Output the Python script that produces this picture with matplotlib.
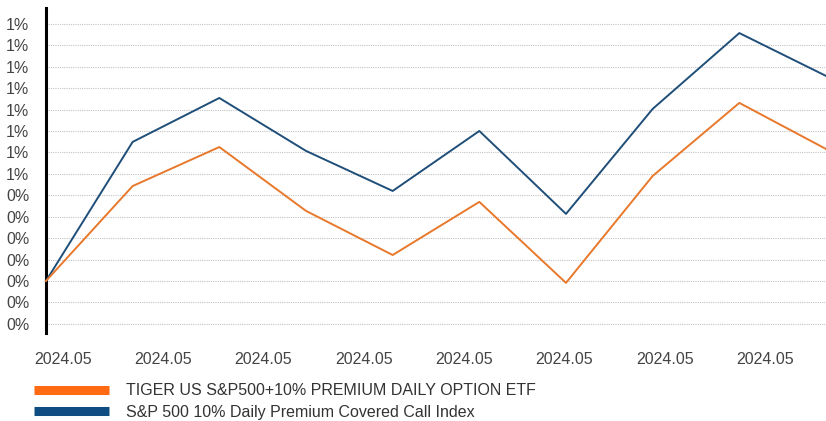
import matplotlib.pyplot as plt
from matplotlib.lines import Line2D
from matplotlib.ticker import FuncFormatter
import math

plt.rcParams['font.family'] = ['Liberation Sans', 'DejaVu Sans']

# 수익률 (%)
etf_name = "TIGER US S&P500+10% PREMIUM DAILY OPTION ETF"
idx_name = "S&P 500 10% Daily Premium Covered Call Index"
etf = [0.0, 0.443, 0.625, 0.327, 0.121, 0.369, -0.009, 0.49, 0.831, 0.616]
idx = [0.0, 0.649, 0.854, 0.607, 0.42, 0.70, 0.313, 0.803, 1.157, 0.957]
x = list(range(len(etf)))

x_labels = ["2024.05"] * 8
x_ticks = [0.196 + 1.157 * i for i in range(8)]
y_ticks = [i / 10 for i in range(-2, 13)]

c_etf = "#E8782B"
c_idx = "#1F4E79"

fig = plt.figure(figsize=(8.26, 4.21), dpi=100)
ax = fig.add_axes([46 / 826, 88 / 421, 780 / 826, 325 / 421])

ax.plot(x, idx, color=c_idx, lw=1.4, clip_on=False, zorder=3)
ax.plot(x, etf, color=c_etf, lw=1.4, clip_on=False, zorder=3)

ax.set_xlim(0, 9)
ax.set_ylim(-0.243, 1.274)
ax.set_yticks(y_ticks)
ax.yaxis.set_major_formatter(FuncFormatter(lambda v, p: f"{abs(math.floor(v + 0.5))}%"))
ax.set_xticks(x_ticks)
ax.set_xticklabels(x_labels)
ax.grid(axis='y', color='#c4c4c4', ls=(0, (1, 1)), lw=0.8)
ax.tick_params(length=0, labelsize=11.5, labelcolor='#444444')
ax.tick_params(axis='y', pad=12)
ax.tick_params(axis='x', pad=14)
for s in ['top', 'right', 'bottom']:
    ax.spines[s].set_visible(False)
ax.spines['left'].set_linewidth(2.2)
ax.spines['left'].set_color('black')

handles = [Line2D([], [], color="#FF6A13", lw=6.5, solid_capstyle='butt'),
           Line2D([], [], color="#0F4C81", lw=6.5, solid_capstyle='butt')]
fig.legend(handles, [etf_name, idx_name], loc='upper left',
           bbox_to_anchor=(20 / 826, 1 - 369 / 421), frameon=False,
           fontsize=11.5, handlelength=4.7, handletextpad=1.05,
           labelspacing=0.42, labelcolor='#333333')

fig.savefig("out.png", dpi=100)
